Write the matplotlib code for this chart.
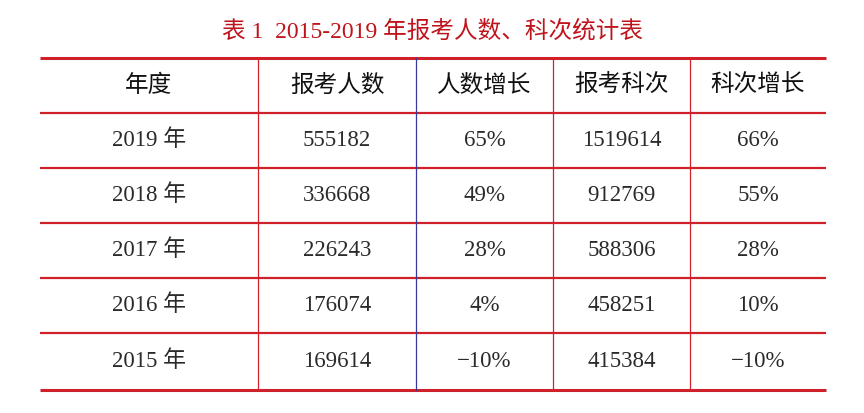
import matplotlib
matplotlib.use("Agg")
import matplotlib.pyplot as plt

plt.rcParams['font.family'] = ['Liberation Serif', 'Noto Sans CJK SC', 'DejaVu Sans']

title = "表 1  2015-2019 年报考人数、科次统计表"
headers = ["年度", "报考人数", "人数增长", "报考科次", "科次增长"]
years = ["2019 年", "2018 年", "2017 年", "2016 年", "2015 年"]
applicants = ["555182", "336668", "226243", "176074", "169614"]
applicant_growth = ["65%", "49%", "28%", "4%", "-10%"]
subjects = ["1519614", "912769", "588306", "458251", "415384"]
subject_growth = ["66%", "55%", "28%", "10%", "-10%"]

W, H = 864, 413
fig = plt.figure(figsize=(W/100, H/100), dpi=100)
ax = fig.add_axes([0, 0, 1, 1])
ax.set_xlim(0, W); ax.set_ylim(H, 0); ax.axis('off')

red = '#d0202a'
col_x = [40, 258, 416, 553, 690, 826]
row_y = [58, 113, 168, 223, 278, 333, 390]

ax.text(W/2, 31, title, color='#c0141c', fontsize=17, ha='center', va='center')

for i, y in enumerate(row_y):
    lw = 2.2 if i in (0, len(row_y)-1) else 1.6
    ax.plot([col_x[0], col_x[-1]], [y, y], color=red, lw=lw, solid_capstyle='butt')
for j, x in enumerate(col_x[1:-1]):
    c = '#3a3a9a' if j == 1 else red
    ax.plot([x, x], [row_y[0], row_y[-1]], color=c, lw=0.9)

rows = [headers] + [list(r) for r in zip(years, applicants, applicant_growth, subjects, subject_growth)]
for i, r in enumerate(rows):
    yc = (row_y[i] + row_y[i+1]) / 2
    for j, t in enumerate(r):
        xc = (col_x[j] + col_x[j+1]) / 2
        ax.text(xc, yc, t.replace('-', '−') if i else t, ha='center', va='center',
                fontsize=17 if i == 0 else 16.5, color='#111111' if i == 0 else '#2a2a2a')

fig.savefig("out.png", dpi=100)
